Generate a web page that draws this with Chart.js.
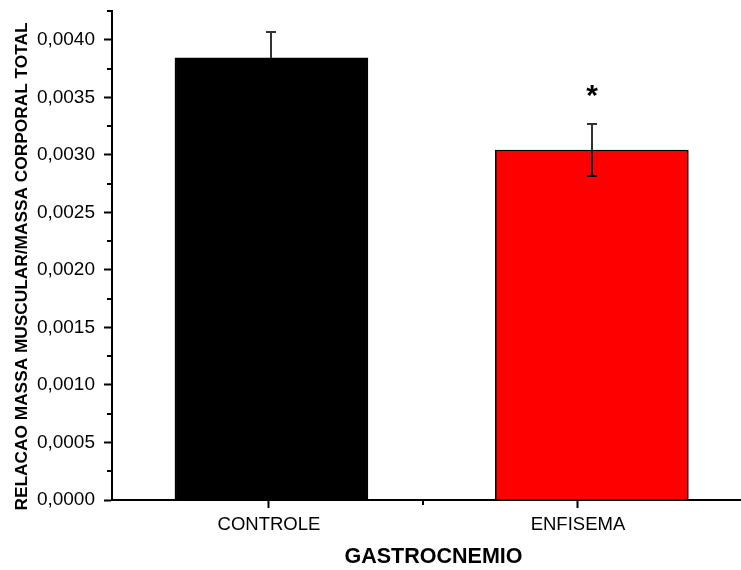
<!DOCTYPE html>
<html>
<head>
<meta charset="utf-8">
<script src="https://cdn.jsdelivr.net/npm/chart.js@4/dist/chart.umd.min.js"></script>
<style>
  body { margin: 0; background: #fff; overflow: hidden; }
  #wrap { width: 741px; height: 570px; overflow: hidden; }
</style>
</head>
<body>
<div id="wrap"><canvas id="c" width="755" height="570"></canvas></div>
<script>
const categories = ['CONTROLE', 'ENFISEMA']
const categoryTicks = [1, 2]
const barPositions = [1.008, 2.045]
const means = [0.003842, 0.003042]
const errors = [0.000225, 0.000223]
const significance = ['', '*']
const barColors = ['#000000', '#ff0000']
const yTicks = [0, 0.0005, 0.001, 0.0015, 0.002, 0.0025, 0.003, 0.0035, 0.004]
const yMinorTicks = [0.00025, 0.00075, 0.00125, 0.00175, 0.00225, 0.00275, 0.00325, 0.00375, 0.00425]
const xMinorTicks = [1.5]
const yTitle = 'RELACAO MASSA MUSCULAR/MASSA CORPORAL TOTAL'

const fontFamily = "'Liberation Sans', Arial, sans-serif"

// error bars, asterisk, minor ticks and the y title (sits a bit lower than the axis centre)
const extras = {
    id: 'extras',
    afterDatasetsDraw(chart) {
        const ctx = chart.ctx
        const y = chart.scales.y
        const bars = chart.getDatasetMeta(0).data
        ctx.save()
        ctx.lineWidth = 2
        bars.forEach((bar, i) => {
            let bx = Math.round(bar.x)
            let top = Math.round(y.getPixelForValue(means[i] + errors[i]))
            let mid = Math.round(y.getPixelForValue(means[i]))
            let bot = Math.round(y.getPixelForValue(means[i] - errors[i]))
            // upper half, above the bar
            ctx.strokeStyle = '#333333'
            ctx.beginPath()
            ctx.moveTo(bx, top); ctx.lineTo(bx, mid)
            ctx.moveTo(bx - 5, top); ctx.lineTo(bx + 5, top)
            ctx.stroke()
            // lower half, inside the bar
            ctx.strokeStyle = '#000000'
            ctx.beginPath()
            ctx.moveTo(bx, mid); ctx.lineTo(bx, bot)
            ctx.moveTo(bx - 5, bot); ctx.lineTo(bx + 5, bot)
            ctx.stroke()
            if (significance[i]) {
                ctx.fillStyle = '#000'
                ctx.font = 'bold 30px ' + fontFamily
                ctx.textAlign = 'center'
                ctx.textBaseline = 'alphabetic'
                ctx.fillText(significance[i], bx, top - 19)
            }
        })
        ctx.restore()
    },
    afterDraw(chart) {
        const ctx = chart.ctx
        const {x, y} = chart.scales
        const area = chart.chartArea
        ctx.save()
        ctx.strokeStyle = '#000'
        ctx.lineWidth = 2
        ctx.beginPath()
        yMinorTicks.forEach(v => {
            let py = Math.round(y.getPixelForValue(v))
            ctx.moveTo(area.left - 5, py); ctx.lineTo(area.left, py)
        })
        xMinorTicks.forEach(v => {
            let px = Math.round(x.getPixelForValue(v))
            ctx.moveTo(px, area.bottom); ctx.lineTo(px, area.bottom + 5)
        })
        ctx.stroke()

        ctx.translate(22, (area.top + area.bottom) / 2 + 11)
        ctx.rotate(-Math.PI / 2)
        ctx.fillStyle = '#000'
        ctx.font = 'bold 17.3px ' + fontFamily
        ctx.textAlign = 'center'
        ctx.textBaseline = 'middle'
        ctx.fillText(yTitle, 0, 0)
        ctx.restore()
    }
}

const config = {
    type: 'bar',
    data: {
        datasets: [{
            data: barPositions.map((p, i) => ({x: p, y: means[i]})),
            backgroundColor: barColors,
            borderColor: '#000000',
            borderWidth: 1.5,
            borderSkipped: 'bottom',
            barThickness: 193
        }]
    },
    options: {
        responsive: false,
        animation: false,
        layout: {padding: 0},
        plugins: {legend: {display: false}, tooltip: {enabled: false}},
        scales: {
            x: {
                type: 'linear',
                offset: false,
                min: 0.492,
                max: 2.573,
                afterBuildTicks: s => { s.ticks = categoryTicks.map(v => ({value: v})) },
                afterFit: s => { s.height = 70; s.paddingLeft = 0; s.paddingRight = 0 },
                border: {display: true, color: '#000', width: 2},
                grid: {offset: false, drawOnChartArea: false, drawTicks: true, tickLength: 8, tickWidth: 2, tickColor: '#000'},
                ticks: {
                    padding: 6,
                    color: '#000',
                    font: {family: fontFamily, size: 18.5},
                    maxRotation: 0,
                    callback: (v) => categories[categoryTicks.indexOf(v)]
                },
                title: {
                    display: true,
                    text: 'GASTROCNEMIO',
                    color: '#000',
                    font: {family: fontFamily, size: 21.5, weight: 'bold'},
                    padding: {top: 0, bottom: 0}
                }
            },
            y: {
                min: 0,
                max: 0.00425,
                afterBuildTicks: s => { s.ticks = yTicks.map(v => ({value: v})) },
                afterFit: s => { s.width = 112; s.paddingTop = 11; s.paddingBottom = 0 },
                border: {display: true, color: '#000', width: 2},
                grid: {drawOnChartArea: false, drawTicks: true, tickLength: 8, tickWidth: 2, tickColor: '#000'},
                ticks: {
                    padding: 9,
                    color: '#000',
                    font: {family: fontFamily, size: 19},
                    callback: v => v.toFixed(4).replace('.', ',')
                },
                title: {display: false}
            }
        }
    },
    plugins: [extras]
}

new Chart(document.getElementById('c'), config)
</script>
</body>
</html>
